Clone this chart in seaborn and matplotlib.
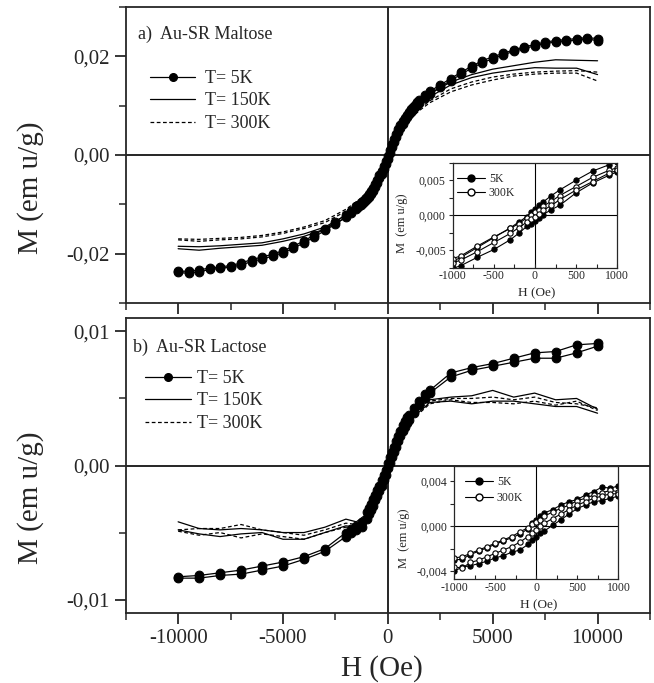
import numpy as np
import pandas as pd
import matplotlib
matplotlib.use("Agg")
import matplotlib.pyplot as plt
from matplotlib.lines import Line2D
import seaborn as sns

# ---------------- data ----------------
# (a) Au-SR Maltose, main panel
H_a5 = [-10000, -9500, -9000, -8500, -8000, -7500, -7000, -6500, -6000, -5500, -5000, -4500, -4000,
        -3500, -3000, -2500, -2000, -1750,
        -1500, -1400, -1300, -1200, -1100, -1000, -900, -800, -700, -600, -500, -400, -300, -200, -100,
        0, 100, 200, 300, 400, 500, 600, 700, 800, 900, 1000, 1100, 1200, 1300, 1400, 1500,
        1750, 2000,
        2500, 3000, 3500, 4000, 4500, 5000, 5500, 6000, 6500, 7000, 7500, 8000, 8500, 9000, 9500, 10000]
M_a5_desc = [-0.0235, -0.0236, -0.0233, -0.0229, -0.0227, -0.0224, -0.0219, -0.0212, -0.0207, -0.0201,
             -0.0194, -0.0185, -0.0174, -0.0162, -0.0149, -0.0136, -0.0121, -0.0113,
             -0.0104, -0.0101, -0.0097, -0.0093, -0.0089, -0.0085, -0.0079, -0.0073, -0.0066, -0.0058,
             -0.0050, -0.0041, -0.0032, -0.0022, -0.0012, -0.0002, 0.0010, 0.0022, 0.0033, 0.0043,
             0.0052, 0.0061, 0.0069, 0.0076, 0.0082, 0.0088, 0.0093, 0.0098, 0.0102, 0.0107, 0.0111,
             0.0121, 0.0129,
             0.0142, 0.0155, 0.0168, 0.0180, 0.0191, 0.0199, 0.0206, 0.0213, 0.0219, 0.0224, 0.0229,
             0.0232, 0.0234, 0.0236, 0.0238, 0.0236]
M_a5_asc = [-0.0238, -0.0240, -0.0237, -0.0232, -0.0230, -0.0227, -0.0223, -0.0216, -0.0211, -0.0205,
            -0.0198, -0.0189, -0.0178, -0.0166, -0.0153, -0.0140, -0.0126, -0.0118,
            -0.0109, -0.0106, -0.0102, -0.0098, -0.0094, -0.0090, -0.0085, -0.0079, -0.0072, -0.0064,
            -0.0056, -0.0047, -0.0038, -0.0028, -0.0018, -0.0008, 0.0004, 0.0016, 0.0027, 0.0037,
            0.0046, 0.0055, 0.0063, 0.0070, 0.0077, 0.0083, 0.0088, 0.0093, 0.0097, 0.0102, 0.0106,
            0.0116, 0.0124,
            0.0138, 0.0151, 0.0164, 0.0176, 0.0187, 0.0195, 0.0203, 0.0210, 0.0216, 0.0221, 0.0226,
            0.0229, 0.0231, 0.0233, 0.0235, 0.0232]

H_a = [-10000, -9000, -8000, -7000, -6000, -5000, -4000, -3000, -2000, -1500, -1000, -500, 0, 500,
       1000, 1500, 2000, 3000, 4000, 5000, 6000, 7000, 8000, 9000, 10000]
M_a150_desc = [-0.0185, -0.0186, -0.0184, -0.0181, -0.0178, -0.0170, -0.0160, -0.0146, -0.0122, -0.0104,
               -0.0084, -0.0052, -0.0004, 0.0048, 0.0082, 0.0104, 0.0124, 0.0148, 0.0163, 0.0174,
               0.0181, 0.0188, 0.0193, 0.0192, 0.0191]
M_a150_asc = [-0.0190, -0.0193, -0.0189, -0.0186, -0.0183, -0.0175, -0.0165, -0.0150, -0.0127, -0.0108,
              -0.0088, -0.0056, -0.0008, 0.0044, 0.0078, 0.0100, 0.0118, 0.0142, 0.0157, 0.0166,
              0.0172, 0.0177, 0.0176, 0.0176, 0.0163]
M_a300_desc = [-0.0170, -0.0171, -0.0169, -0.0167, -0.0163, -0.0156, -0.0146, -0.0133, -0.0110, -0.0095,
               -0.0076, -0.0046, -0.0002, 0.0044, 0.0074, 0.0094, 0.0110, 0.0134, 0.0148, 0.0158,
               0.0164, 0.0168, 0.0170, 0.0171, 0.0168]
M_a300_asc = [-0.0172, -0.0175, -0.0172, -0.0170, -0.0166, -0.0159, -0.0149, -0.0137, -0.0114, -0.0098,
              -0.0080, -0.0050, -0.0006, 0.0040, 0.0070, 0.0090, 0.0106, 0.0128, 0.0142, 0.0152,
              0.0160, 0.0164, 0.0166, 0.0166, 0.0150]

# (a) inset
H_ai = [-1000, -900, -700, -500, -300, -200, -100, -50, 0, 50, 100, 200, 300, 500, 700, 900, 1000]
M_ai5_desc = [-0.0066, -0.0060, -0.0046, -0.0032, -0.0018, -0.0010, -0.0002, 0.0004, 0.0009, 0.0014,
              0.0019, 0.0028, 0.0036, 0.0050, 0.0063, 0.0072, 0.0076]
M_ai5_asc = [-0.0076, -0.0072, -0.0060, -0.0049, -0.0035, -0.0026, -0.0016, -0.0012, -0.0009, -0.0004,
             0.0001, 0.0008, 0.0014, 0.0032, 0.0046, 0.0057, 0.0062]
M_ai300_desc = [-0.0062, -0.0058, -0.0044, -0.0031, -0.0019, -0.0012, -0.0004, 0.0000, 0.0004, 0.0008,
                0.0013, 0.0020, 0.0028, 0.0041, 0.0054, 0.0064, 0.0068]
M_ai300_asc = [-0.0068, -0.0064, -0.0052, -0.0039, -0.0026, -0.0018, -0.0010, -0.0006, -0.0003, 0.0002,
               0.0007, 0.0014, 0.0022, 0.0036, 0.0048, 0.0060, 0.0064]

# (b) Au-SR Lactose, main panel
H_b5 = [-10000, -9000, -8000, -7000, -6000, -5000, -4000, -3000, -2000, -1750, -1500, -1250,
        -1000, -900, -800, -700, -600, -500, -400, -300, -200, -100, 0, 100, 200, 300, 400, 500,
        600, 700, 800, 900, 1000,
        1250, 1500, 1750, 2000,
        3000, 4000, 5000, 6000, 7000, 8000, 9000, 10000]
M_b5_desc = [-0.0083, -0.0082, -0.0080, -0.0078, -0.0075, -0.0072, -0.0068, -0.0062, -0.0050, -0.0047,
             -0.0045, -0.0042,
             -0.0035, -0.0032, -0.0029, -0.0025, -0.0022, -0.0018, -0.0015, -0.0011, -0.0007, -0.0003,
             0.0002, 0.0006, 0.0010, 0.0014, 0.0018, 0.0022, 0.0026, 0.0030, 0.0033, 0.0036, 0.0038,
             0.0043, 0.0048, 0.0053, 0.0056,
             0.0069, 0.0073, 0.0076, 0.0080, 0.0084, 0.0085, 0.0090, 0.0091]
M_b5_asc = [-0.0084, -0.0084, -0.0082, -0.0081, -0.0078, -0.0075, -0.0070, -0.0064, -0.0053, -0.0050,
            -0.0048, -0.0046,
            -0.0040, -0.0036, -0.0033, -0.0030, -0.0026, -0.0023, -0.0019, -0.0015, -0.0011, -0.0007,
            -0.0002, 0.0002, 0.0006, 0.0010, 0.0014, 0.0018, 0.0022, 0.0026, 0.0029, 0.0032, 0.0034,
            0.0039, 0.0045, 0.0050, 0.0054,
            0.0066, 0.0071, 0.0074, 0.0077, 0.0080, 0.0080, 0.0084, 0.0089]

H_b = [-10000, -9000, -8000, -7000, -6000, -5000, -4000, -3000, -2000, -1500, -1000, -500, 0, 500,
       1000, 1500, 2000, 3000, 4000, 5000, 6000, 7000, 8000, 9000, 10000]
M_b150_desc = [-0.0042, -0.0047, -0.0048, -0.0047, -0.0048, -0.0050, -0.0050, -0.0046, -0.0040, -0.0042,
               -0.0036, -0.0022, 0.0001, 0.0024, 0.0038, 0.0043, 0.0049, 0.0051, 0.0052, 0.0056,
               0.0051, 0.0054, 0.0049, 0.0050, 0.0042]
M_b150_asc = [-0.0048, -0.0051, -0.0053, -0.0051, -0.0050, -0.0055, -0.0055, -0.0050, -0.0045, -0.0046,
              -0.0040, -0.0026, -0.0003, 0.0020, 0.0034, 0.0040, 0.0047, 0.0048, 0.0046, 0.0048,
              0.0048, 0.0046, 0.0044, 0.0044, 0.0039]
M_b300_desc = [-0.0048, -0.0047, -0.0047, -0.0044, -0.0048, -0.0050, -0.0052, -0.0048, -0.0043, -0.0044,
               -0.0037, -0.0023, 0.0000, 0.0022, 0.0036, 0.0042, 0.0048, 0.0050, 0.0050, 0.0051,
               0.0049, 0.0051, 0.0047, 0.0046, 0.0043]
M_b300_asc = [-0.0049, -0.0052, -0.0050, -0.0054, -0.0051, -0.0053, -0.0055, -0.0050, -0.0046, -0.0047,
              -0.0041, -0.0027, -0.0004, 0.0019, 0.0033, 0.0039, 0.0046, 0.0049, 0.0047, 0.0047,
              0.0046, 0.0048, 0.0045, 0.0048, 0.0041]

# (b) inset
H_bi = [-1000, -900, -800, -700, -600, -500, -400, -300, -200, -100, -50, 0, 50, 100, 200, 300, 400,
        500, 600, 700, 800, 900, 1000]
M_bi5_desc = [-0.0030, -0.0029, -0.0025, -0.0022, -0.0019, -0.0016, -0.0013, -0.0010, -0.0007, -0.0002,
              0.0003, 0.0006, 0.0009, 0.0012, 0.0015, 0.0019, 0.0022, 0.0024, 0.0028, 0.0031, 0.0035,
              0.0034, 0.0036]
M_bi5_asc = [-0.0040, -0.0036, -0.0035, -0.0033, -0.0031, -0.0028, -0.0026, -0.0023, -0.0021, -0.0016,
             -0.0012, -0.0009, -0.0006, -0.0004, 0.0001, 0.0006, 0.0011, 0.0016, 0.0019, 0.0022, 0.0023,
             0.0025, 0.0027]
M_bi300_desc = [-0.0028, -0.0027, -0.0024, -0.0021, -0.0018, -0.0015, -0.0012, -0.0009, -0.0005, -0.0001,
                0.0002, 0.0004, 0.0006, 0.0009, 0.0013, 0.0016, 0.0019, 0.0023, 0.0025, 0.0028, 0.0030,
                0.0032, 0.0031]
M_bi300_asc = [-0.0036, -0.0037, -0.0032, -0.0030, -0.0027, -0.0024, -0.0021, -0.0018, -0.0014, -0.0009,
               -0.0006, -0.0003, 0.0000, 0.0003, 0.0007, 0.0011, 0.0015, 0.0019, 0.0022, 0.0025, 0.0027,
               0.0029, 0.0029]

# tick labels / texts
x_major = [-10000, -5000, 0, 5000, 10000]
x_labels = ["-10000", "-5000", "0", "5000", "10000"]
ya_major = [-0.02, 0.0, 0.02]
ya_labels = ["-0,02", "0,00", "0,02"]
yb_major = [-0.01, 0.0, 0.01]
yb_labels = ["-0,01", "0,00", "0,01"]
xi_major = [-1000, -500, 0, 500, 1000]
xi_labels = ["-1000", "-500", "0", "500", "1000"]
yai_major = [-0.005, 0.0, 0.005]
yai_labels = ["-0,005", "0,000", "0,005"]
ybi_major = [-0.004, 0.0, 0.004]
ybi_labels = ["-0,004", "0,000", "0,004"]
legend_main = ["T= 5K", "T= 150K", "T= 300K"]
legend_inset = ["5K", "300K"]

# ---------------- style ----------------
sns.set_style("ticks")
plt.rcParams["font.family"] = ["Liberation Serif", "DejaVu Serif"]
plt.rcParams["axes.linewidth"] = 1.3

W, Hpx = 654, 683
fig = plt.figure(figsize=(W / 100, Hpx / 100), dpi=100)


def fx(px):
    return px / W


def fy(py):
    return 1 - py / Hpx


def axes_px(l, t, r, b):
    return [fx(l), fy(b), fx(r) - fx(l), fy(t) - fy(b)]


ax_a = fig.add_axes(axes_px(125.7, 7, 650, 303))
ax_b = fig.add_axes(axes_px(125.7, 318, 650, 613))
in_a = fig.add_axes(axes_px(452.8, 162.7, 617.2, 267.7))
in_b = fig.add_axes(axes_px(454, 465.7, 618.4, 579.3))

LW = 0.9
kw5 = dict(color="black", lw=LW, marker="o", markersize=6.3, markerfacecolor="black",
           markeredgecolor="black")
kw150 = dict(color="black", lw=LW, linestyle="-")
kw300 = dict(color="black", lw=LW, linestyle=(0, (3, 2)))


def loop(ax, H, Md, Ma, **kw):
    for M in (Md, Ma):
        sns.lineplot(x=H, y=M, ax=ax, sort=False, estimator=None, legend=False, **kw)


# main panels
for ax, H150, d150, a150, d300, a300, H5, d5, a5 in [
    (ax_a, H_a, M_a150_desc, M_a150_asc, M_a300_desc, M_a300_asc, H_a5, M_a5_desc, M_a5_asc),
    (ax_b, H_b, M_b150_desc, M_b150_asc, M_b300_desc, M_b300_asc, H_b5, M_b5_desc, M_b5_asc),
]:
    loop(ax, H150, d150, a150, **kw150)
    loop(ax, H150, d300, a300, **kw300)
    loop(ax, H5, d5, a5, **kw5)
    ax.axhline(0, color="black", lw=1.2, zorder=0.5)
    ax.axvline(0, color="black", lw=1.2, zorder=0.5)
    ax.set_xlim(-12500, 12500)
    ax.set_xticks(x_major)
    ax.set_xticks([-12500, -7500, -2500, 2500, 7500, 12500], minor=True)
    ax.set_xlabel("")
    ax.set_ylabel("")
    ax.tick_params(which="major", direction="out", length=8, width=1.3, labelsize=15,
                   top=False, right=False)
    ax.tick_params(which="minor", direction="out", length=5, width=1.1, top=False, right=False)
    for s in ax.spines.values():
        s.set_visible(True)
        s.set_linewidth(1.3)

ax_a.set_ylim(-0.03, 0.03)
ax_a.set_yticks(ya_major)
ax_a.set_yticklabels(ya_labels)
ax_a.set_yticks([-0.03, -0.01, 0.01, 0.03], minor=True)
ax_a.set_xticklabels([])

ax_b.set_ylim(-0.011, 0.011)
ax_b.set_yticks(yb_major)
ax_b.set_yticklabels(yb_labels)
ax_b.set_yticks([-0.005, 0.005], minor=True)
ax_b.set_xticklabels(x_labels)

# insets
for ax, H, d5, a5, d3, a3, ylim, yt, ytl, ymin in [
    (in_a, H_ai, M_ai5_desc, M_ai5_asc, M_ai300_desc, M_ai300_asc, (-0.0074, 0.0074), yai_major,
     yai_labels, [-0.0075, -0.0025, 0.0025, 0.0075]),
    (in_b, H_bi, M_bi5_desc, M_bi5_asc, M_bi300_desc, M_bi300_asc, (-0.0047, 0.0054), ybi_major,
     ybi_labels, [-0.002, 0.002]),
]:
    ax.set_facecolor("white")
    loop(ax, H, d5, a5, color="black", lw=0.8, marker="o", markersize=3.8,
         markerfacecolor="black", markeredgecolor="black")
    loop(ax, H, d3, a3, color="black", lw=0.8, marker="o", markersize=3.8,
         markerfacecolor="white", markeredgecolor="black", markeredgewidth=0.8)
    ax.axhline(0, color="black", lw=0.8, zorder=0.5)
    ax.axvline(0, color="black", lw=0.8, zorder=0.5)
    ax.set_xlim(-1000, 1000)
    ax.set_ylim(*ylim)
    ax.set_xticks(xi_major)
    ax.set_xticklabels(xi_labels)
    ax.set_xticks([-750, -250, 250, 750], minor=True)
    ax.set_yticks(yt)
    ax.set_yticklabels(ytl)
    ax.set_yticks(ymin, minor=True)
    ax.set_xlabel("")
    ax.set_ylabel("")
    ax.tick_params(axis="x", which="both", direction="in", length=3, width=0.8, labelsize=8.5, pad=2)
    ax.tick_params(axis="y", which="both", direction="out", length=3, width=0.8, labelsize=8.5, pad=2)
    for s in ax.spines.values():
        s.set_visible(True)
        s.set_linewidth(0.9)

# axis labels
fig.text(fx(31), fy(187.5), "M (em u/g)", rotation=90, ha="center", va="center", fontsize=21)
fig.text(fx(31), fy(498), "M (em u/g)", rotation=90, ha="center", va="center", fontsize=21)
fig.text(fx(382), fy(669), "H (Oe)", ha="center", va="center", fontsize=21)

fig.text(fx(402.5), fy(223), "M  (em u/g)", rotation=90, ha="center", va="center", fontsize=9)
fig.text(fx(537), fy(293), "H (Oe)", ha="center", va="center", fontsize=9.5)
fig.text(fx(404.5), fy(538), "M  (em u/g)", rotation=90, ha="center", va="center", fontsize=9)
fig.text(fx(539), fy(605), "H (Oe)", ha="center", va="center", fontsize=9.5)

# panel titles
fig.text(fx(138), fy(34), "a)  Au-SR Maltose", ha="left", va="center", fontsize=13)
fig.text(fx(133), fy(347), "b)  Au-SR Lactose", ha="left", va="center", fontsize=13)


def main_handles(ms):
    return [
        Line2D([], [], color="black", lw=LW, marker="o", markersize=ms, markerfacecolor="black"),
        Line2D([], [], color="black", lw=LW, linestyle="-"),
        Line2D([], [], color="black", lw=LW, linestyle=(0, (3, 2))),
    ]


ax_a.legend(main_handles(5.5), legend_main, loc="upper left", frameon=False, fontsize=13,
            bbox_to_anchor=((150 - 125.7) / 524.3, (303 - 70) / 296), borderaxespad=0, borderpad=0,
            handlelength=2.5, handletextpad=0.55, labelspacing=0.3)
ax_b.legend(main_handles(5.5), legend_main, loc="upper left", frameon=False, fontsize=13,
            bbox_to_anchor=((145 - 125.7) / 524.3, (613 - 370) / 295), borderaxespad=0, borderpad=0,
            handlelength=2.55, handletextpad=0.35, labelspacing=0.3)


def inset_handles():
    return [
        Line2D([], [], color="black", lw=0.8, marker="o", markersize=5, markerfacecolor="black"),
        Line2D([], [], color="black", lw=0.8, marker="o", markersize=5, markerfacecolor="white"),
    ]


in_a.legend(inset_handles(), legend_inset, loc="upper left", frameon=False, fontsize=8.5,
            bbox_to_anchor=((457 - 452.8) / 164.4, (267.7 - 173) / 105), borderaxespad=0, borderpad=0,
            handlelength=2.4, handletextpad=0.3, labelspacing=0.2)
in_b.legend(inset_handles(), legend_inset, loc="upper left", frameon=False, fontsize=8.5,
            bbox_to_anchor=((465 - 454) / 164.4, (579.3 - 476) / 113.6), borderaxespad=0, borderpad=0,
            handlelength=2.4, handletextpad=0.3, labelspacing=0.35)

fig.savefig("out.png", dpi=100)
